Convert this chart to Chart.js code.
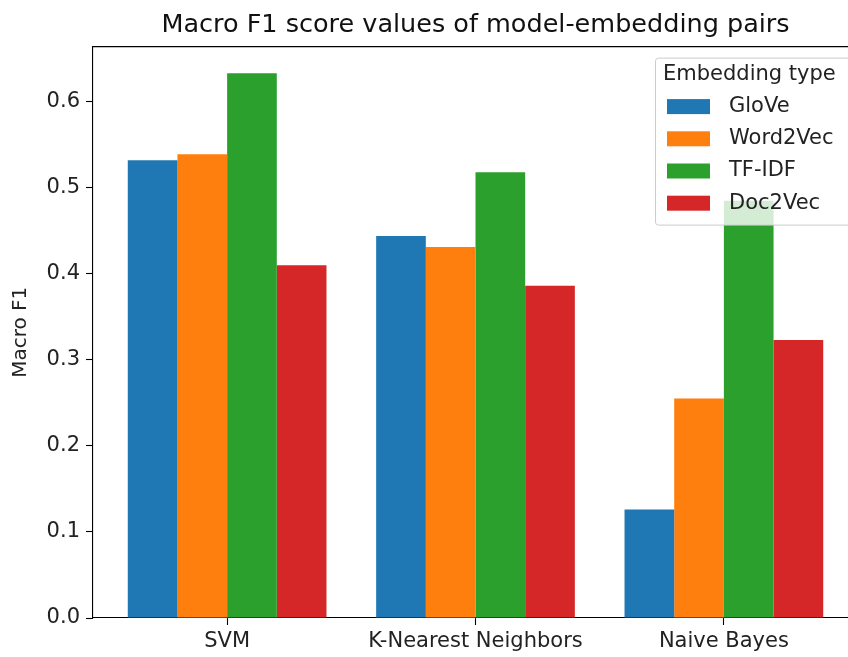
<!DOCTYPE html>
<html lang="en">
<head>
    <meta charset="UTF-8">
    <title>Macro F1 score values of model-embedding pairs</title>
    <script src="https://cdn.jsdelivr.net/npm/chart.js"></script>
    <style>
        html, body {
            margin: 0;
            padding: 0;
            background: #ffffff;
            overflow: hidden;
        }
        #f1Chart {
            display: block;
        }
    </style>
</head>
<body>
<canvas id="f1Chart" width="880" height="657"></canvas>
<script>
    // chart data
    const models = ['SVM', 'K-Nearest Neighbors', 'Naive Bayes'];
    const embeddings = ['GloVe', 'Word2Vec', 'TF-IDF', 'Doc2Vec'];
    const gloveF1 = [0.532, 0.444, 0.126];
    const word2vecF1 = [0.539, 0.431, 0.255];
    const tfidfF1 = [0.633, 0.518, 0.485];
    const doc2vecF1 = [0.410, 0.386, 0.323];
    const yTicks = [0, 0.1, 0.2, 0.3, 0.4, 0.5, 0.6];

    const seriesValues = [gloveF1, word2vecF1, tfidfF1, doc2vecF1];
    const colors = ['#1f77b4', '#ff7f0e', '#2ca02c', '#d62728'];
    const fontFamily = '"DejaVu Sans", sans-serif';

    // top spine (the right one falls outside the picture)
    const topSpine = {
        id: 'topSpine',
        afterDraw(chart) {
            const a = chart.chartArea;
            const ctx = chart.ctx;
            ctx.save();
            ctx.strokeStyle = '#000';
            ctx.lineWidth = 1.1;
            ctx.beginPath();
            ctx.moveTo(a.left, a.top);
            ctx.lineTo(a.right, a.top);
            ctx.stroke();
            ctx.restore();
        }
    };

    // matplotlib-like legend box in the upper right corner
    const boxLegend = {
        id: 'boxLegend',
        afterDatasetsDraw(chart) {
            const a = chart.chartArea;
            const ctx = chart.ctx;
            const left = a.right - 203;
            const top = a.top + 11;
            const w = 198;
            const h = 167;
            ctx.save();
            ctx.fillStyle = 'rgba(255,255,255,0.8)';
            ctx.strokeStyle = '#cccccc';
            ctx.lineWidth = 1;
            ctx.beginPath();
            ctx.roundRect(left + 0.5, top + 0.5, w, h, 3);
            ctx.fill();
            ctx.stroke();
            ctx.fillStyle = '#222';
            ctx.font = '21px ' + fontFamily;
            ctx.textBaseline = 'middle';
            ctx.textAlign = 'left';
            ctx.fillText('Embedding type', left + 8, top + 17);
            chart.data.datasets.forEach((ds, i) => {
                const cy = top + 49 + i * 32.2;
                ctx.fillStyle = ds.backgroundColor;
                ctx.fillRect(left + 12, cy - 7.5, 43, 15);
                ctx.fillStyle = '#222';
                ctx.fillText(ds.label, left + 74, cy);
            });
            ctx.restore();
        }
    };

    const ctx = document.getElementById('f1Chart').getContext('2d');
    const f1Chart = new Chart(ctx, {
        type: 'bar',
        data: {
            datasets: embeddings.map((name, i) => ({
                label: name,
                data: seriesValues[i].map((v, j) => ({ x: j, y: v })),
                backgroundColor: colors[i],
                borderWidth: 0,
                categoryPercentage: 0.8,
                barPercentage: 1.0
            }))
        },
        options: {
            responsive: false,
            animation: false,
            layout: { padding: { left: 0, right: 22, top: 0, bottom: 0 } },
            plugins: {
                legend: { display: false },
                tooltip: { enabled: false },
                title: {
                    display: true,
                    fullSize: false,
                    text: 'Macro F1 score values of model-embedding pairs',
                    color: '#111',
                    font: { family: fontFamily, size: 25.5, weight: 'normal' },
                    padding: { top: 10, bottom: 6 }
                }
            },
            scales: {
                x: {
                    type: 'linear',
                    offset: false,
                    min: -0.54,
                    max: 2.54,
                    afterBuildTicks(scale) {
                        scale.ticks = models.map((m, i) => ({ value: i }));
                    },
                    afterFit(scale) {
                        scale.height = 39;
                    },
                    ticks: {
                        color: '#222',
                        font: { family: fontFamily, size: 21 },
                        padding: 4,
                        maxRotation: 0,
                        autoSkip: false,
                        callback: (v) => models[v]
                    },
                    grid: { offset: false, drawOnChartArea: false, tickLength: 7, color: '#000', tickWidth: 1.1 },
                    border: { color: '#000', width: 1.1 }
                },
                y: {
                    min: 0,
                    max: 0.664,
                    afterBuildTicks(scale) {
                        scale.ticks = yTicks.map(v => ({ value: v }));
                    },
                    afterFit(scale) {
                        scale.width = 93;
                    },
                    ticks: {
                        color: '#222',
                        font: { family: fontFamily, size: 21 },
                        padding: 6,
                        callback: (v) => v.toFixed(1)
                    },
                    title: {
                        display: true,
                        text: 'Macro F1',
                        color: '#222',
                        font: { family: fontFamily, size: 20 },
                        padding: { top: 9, bottom: 4 }
                    },
                    grid: { drawOnChartArea: false, tickLength: 7, color: '#000', tickWidth: 1.1 },
                    border: { color: '#000', width: 1.1 }
                }
            }
        },
        plugins: [topSpine, boxLegend]
    });
</script>
</body>
</html>
